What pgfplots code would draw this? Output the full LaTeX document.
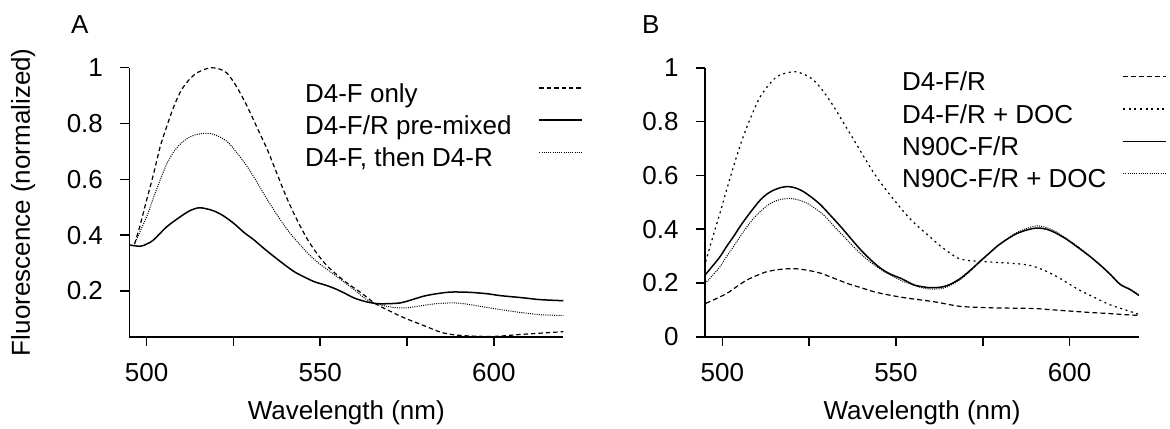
\documentclass[border=0pt]{standalone}
\usepackage{fontspec}
\setmainfont{Liberation Sans}
\usepackage{pgfplots}
\pgfplotsset{compat=1.18}
\begin{document}
\begin{tikzpicture}
\useasboundingbox (0,0) rectangle (585pt,-214pt);
\pgfplotsset{
  myax/.style={
    scale only axis, width=217pt, height=134.5pt,
    axis lines=left, axis line style={-, line width=0.8pt, black},
    xmin=495, xmax=620,
    tick align=outside, major tick length=4.5pt,
    every tick/.style={line width=0.8pt, black},
    xtick={500,525,550,575,600}, xticklabels={500,,550,,600},
    font=\fontsize{13}{15.6}\selectfont,
    /pgf/number format/assume math mode=true,
    yticklabel style={inner sep=0pt, anchor=east, xshift=-8.5pt},
    xticklabel style={inner sep=0pt, anchor=north, yshift=-8.8pt},
    xlabel={Wavelength (nm)},
    xlabel style={at={(axis description cs:0.5,-0.3078)}, anchor=base, inner sep=0pt},
    legend plot pos=right, legend cell align=left,
    legend image code/.code={\draw[##1] (0pt,3.5pt) -- (21.5pt,3.5pt);},
    every axis plot/.append style={black, smooth},
  }
}
\begin{axis}[myax, at={(64.65pt,-168.35pt)}, anchor=south west,
  ymin=0.036, ymax=1, ytick={0.2,0.4,0.6,0.8,1},
  ylabel={Fluorescence (normalized)},
  ylabel style={at={(axis description cs:-0.2288,0.5)}, anchor=base, rotate=0, inner sep=0pt},
  legend style={draw=none, fill=none, at={(axis description cs:0.405,0.943)}, anchor=north west,
    inner sep=0pt, outer sep=0pt, row sep=4pt,
    nodes={inner sep=0pt, text height=9.5pt, text depth=2.5pt},
    /tikz/every odd column/.append style={column sep=13.5pt}},
]
\addplot[line width=0.6pt, dash pattern=on 2.2pt off 1.5pt] coordinates {
(496.5,0.368) (498,0.43) (500,0.526) (502,0.62) (503.9,0.717) (505.8,0.79) (507.8,0.860)
(510,0.92) (512.6,0.962) (515,0.985) (518.4,1.0) (521,0.995) (523.2,0.98) (526,0.93)
(529,0.86) (532,0.78) (534.8,0.705) (537.7,0.615) (540.6,0.526) (543.5,0.45) (546.4,0.383)
(549.3,0.33) (552.2,0.287) (557,0.235) (561.9,0.192) (565.8,0.155) (570,0.128) (574.1,0.104)
(580,0.075) (585.3,0.05) (590.9,0.04) (599.8,0.037) (607.6,0.044) (615,0.05) (620,0.054)};
\addlegendentry{D4-F only}
\addplot[line width=0.75pt] coordinates {
(495,0.365) (498.1,0.36) (500,0.368) (502,0.383) (505.8,0.430) (509.7,0.466) (512.5,0.488)
(515,0.498) (517,0.495) (519.3,0.487) (522,0.47) (525.1,0.442) (528,0.41) (530.9,0.383)
(533.8,0.352) (536.7,0.323) (539.6,0.295) (542.5,0.269) (545.4,0.25) (548.3,0.233)
(551.2,0.222) (554.1,0.209) (557,0.192) (559.9,0.174) (563,0.162) (566,0.155) (568.6,0.154)
(573,0.157) (576,0.167) (579.7,0.181) (583,0.189) (587.5,0.196) (593.1,0.195) (598,0.19)
(602,0.183) (608,0.176) (613.2,0.169) (620,0.165)};
\addlegendentry{D4-F/R pre-mixed}
\addplot[line width=0.5pt, dash pattern=on 0.5pt off 0.6pt] coordinates {
(496.5,0.368) (498,0.41) (500,0.466) (502,0.535) (503.9,0.598) (505.8,0.655) (507.8,0.699)
(510,0.73) (512.6,0.753) (515,0.762) (517.9,0.765) (520.5,0.755) (523.2,0.735) (526,0.695)
(529,0.645) (532,0.585) (534.8,0.526) (537.7,0.47) (540.6,0.418) (543.5,0.375) (546.4,0.335)
(549.3,0.302) (552.2,0.275) (556,0.24) (559.9,0.203) (563,0.172) (565.8,0.155) (570,0.143)
(574.1,0.139) (579.7,0.148) (583,0.154) (587.5,0.157) (590,0.156) (593.1,0.151) (597,0.143)
(602,0.133) (607,0.124) (613.2,0.115) (620,0.112)};
\addlegendentry{D4-F, then D4-R}
\end{axis}
\begin{axis}[myax, at={(352.5pt,-168.35pt)}, anchor=south west,
  ymin=0, ymax=1, ytick={0,0.2,0.4,0.6,0.8,1},
  legend style={draw=none, fill=none, at={(axis description cs:0.454,0.9855)}, anchor=north west,
    inner sep=0pt, outer sep=0pt, row sep=4.2pt,
    nodes={inner sep=0pt, text height=9.5pt, text depth=2.5pt},
    /tikz/every odd column/.append style={column sep=8pt}},
]
\addplot[line width=0.6pt, dash pattern=on 2.5pt off 1.5pt] coordinates {
(495.2,0.124) (498,0.14) (501.3,0.161) (504,0.185) (507.1,0.211) (510,0.228) (512.9,0.242)
(516.5,0.25) (520.6,0.253) (524.5,0.247) (528.3,0.236) (532,0.218) (536,0.198) (540,0.182)
(543.7,0.167) (548,0.155) (553.4,0.143) (561,0.130) (567.7,0.114) (572,0.11) (578.6,0.107)
(589.5,0.105) (595,0.1) (600.4,0.095) (606,0.09) (611.4,0.086) (616,0.082) (620,0.079)};
\addlegendentry{D4-F/R}
\addplot[line width=0.6pt, dash pattern=on 1pt off 1.8pt] coordinates {
(495.2,0.279) (497,0.36) (499.3,0.459) (501.2,0.545) (503.2,0.632) (505.1,0.71) (507.1,0.781)
(509,0.84) (510.9,0.892) (513.3,0.935) (515.7,0.967) (518.3,0.98) (521,0.985) (523.6,0.975)
(526.3,0.954) (529.2,0.91) (532.1,0.855) (535,0.793) (537.9,0.731) (540.8,0.668) (543.7,0.607)
(546.6,0.555) (549.5,0.508) (552.4,0.462) (555.3,0.422) (559,0.38) (563,0.335) (567.7,0.293)
(571,0.283) (574.2,0.280) (578,0.277) (581.9,0.274) (586,0.27) (589.5,0.262) (593,0.245)
(596.1,0.225) (599.4,0.2) (602.6,0.175) (607,0.147) (611.4,0.120) (616,0.1) (620,0.083)};
\addlegendentry{D4-F/R + DOC}
\addplot[line width=0.75pt] coordinates {
(495,0.229) (497,0.26) (499.3,0.297) (501.2,0.335) (503.2,0.372) (505.1,0.41) (507.1,0.446)
(509,0.478) (510.9,0.508) (512.8,0.53) (514.8,0.545) (517,0.555) (519.1,0.558) (521.3,0.552)
(523.4,0.539) (525.8,0.517) (528.3,0.490) (531.2,0.45) (534.1,0.409) (537,0.365) (539.9,0.322)
(542.8,0.285) (545.6,0.254) (548.5,0.232) (551.4,0.217) (555.3,0.192) (558,0.185) (560.1,0.182)
(563.3,0.185) (566,0.197) (568.8,0.219) (571.5,0.248) (574.2,0.280) (577,0.312) (579.7,0.342)
(584.1,0.379) (587.5,0.396) (590.6,0.404) (593.5,0.399) (596.1,0.385) (599.4,0.36) (602.6,0.330)
(606,0.297) (609.2,0.262) (612,0.228) (614.6,0.194) (617.5,0.175) (620,0.153)};
\addlegendentry{N90C-F/R}
\addplot[line width=0.5pt, dash pattern=on 0.5pt off 0.6pt] coordinates {
(495,0.198) (497,0.225) (499.3,0.26) (501.2,0.298) (503.2,0.335) (505.1,0.372) (507.1,0.409)
(509,0.44) (510.9,0.465) (512.8,0.486) (514.8,0.502) (517,0.511) (519.6,0.514) (522,0.508)
(524.4,0.496) (526.8,0.476) (529.2,0.452) (532,0.413) (535,0.372) (537.9,0.333) (540.8,0.297)
(543.7,0.267) (546.6,0.242) (549.5,0.222) (552.4,0.204) (555.7,0.189) (559.1,0.178) (563.3,0.179)
(566,0.193) (568.8,0.215) (571.5,0.245) (574.2,0.278) (577,0.312) (579.7,0.342) (584.1,0.382)
(587.5,0.402) (590.6,0.412) (593.5,0.405) (596.1,0.39) (599.4,0.362) (602.6,0.333) (606,0.298)
(609.2,0.262) (612,0.229) (614.6,0.196) (617.5,0.176) (620,0.155)};
\addlegendentry{N90C-F/R + DOC}
\end{axis}
\node[anchor=base west, inner sep=0pt, font=\fontsize{13}{15.6}\selectfont] at (35.35pt,-16.5pt) {A};
\node[anchor=base west, inner sep=0pt, font=\fontsize{13}{15.6}\selectfont] at (320.85pt,-16.5pt) {B};
\end{tikzpicture}
\end{document}
